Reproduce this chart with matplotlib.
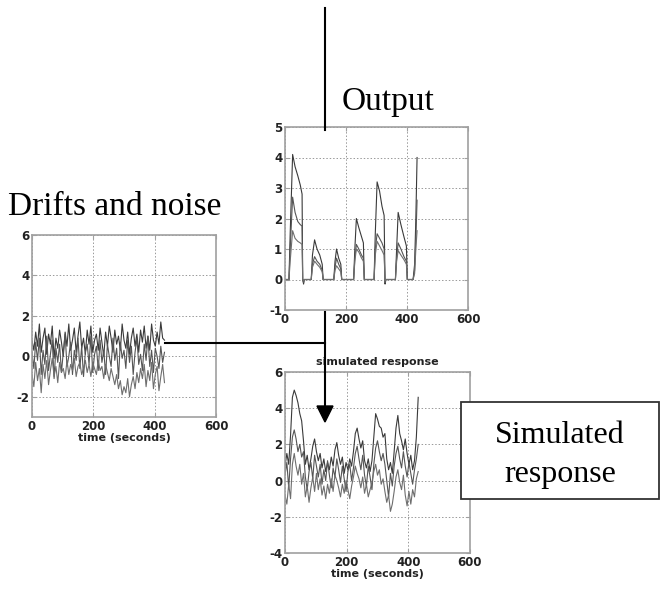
import numpy as np
import matplotlib
matplotlib.use("Agg")
import matplotlib.pyplot as plt
from matplotlib.patches import Polygon, Rectangle

plt.rcParams["axes.unicode_minus"] = False

W, H = 663, 593

# ---- Output panel (three response curves, pulses) ----
t_out = [0, 13,
         17, 25, 33, 42, 50, 56, 58, 61, 63,
         86,
         90, 97, 105, 114, 122, 125, 128,
         160,
         164, 169, 176, 183, 186,
         225,
         229, 234, 242, 251, 257, 260, 263,
         292,
         296, 302, 310, 318, 325, 328, 331,
         362,
         366, 371, 380, 390, 398, 401,
         420,
         425, 429, 433]
out_high = [0, 0,
            1.5, 4.1, 3.7, 3.4, 3.1, 2.8, 0, -0.15, 0,
            0,
            0.8, 1.3, 1.0, 0.8, 0.5, 0, 0,
            0,
            0.6, 1.0, 0.7, 0.5, 0,
            0,
            1.0, 2.0, 1.7, 1.4, 1.2, 0, 0,
            0,
            1.5, 3.2, 2.9, 2.4, 2.1, -0.15, 0,
            0,
            1.0, 2.2, 1.8, 1.4, 1.1, 0,
            0,
            0.5, 2.0, 4.0]
out_mid = [0, 0,
           1.0, 2.7, 2.2, 1.9, 1.8, 1.75, 0, -0.1, 0,
           0,
           0.5, 0.75, 0.6, 0.5, 0.3, 0, 0,
           0,
           0.4, 0.7, 0.5, 0.35, 0,
           0,
           0.7, 1.15, 1.0, 0.8, 0.7, 0, 0,
           0,
           1.0, 1.5, 1.35, 1.2, 1.0, -0.1, 0,
           0,
           0.7, 1.2, 1.0, 0.75, 0.6, 0,
           0,
           0.3, 1.3, 2.6]
out_low = [0, 0,
           0.6, 1.6, 1.35, 1.25, 1.2, 1.15, 0, -0.05, 0,
           0,
           0.4, 0.6, 0.5, 0.4, 0.25, 0, 0,
           0,
           0.3, 0.45, 0.35, 0.25, 0,
           0,
           0.6, 1.0, 0.9, 0.7, 0.6, 0, 0,
           0,
           0.8, 1.25, 1.1, 0.95, 0.8, -0.05, 0,
           0,
           0.6, 0.95, 0.8, 0.65, 0.5, 0,
           0,
           0.2, 1.0, 1.6]

# ---- Drifts and noise (sampled every 6 s, 0..432) ----
t_noise = np.arange(0, 433, 6)
drift_a = [0.8, 0.3, 1.2, 0.5, 1.6, 0.2, 0.9, 1.4, 0.1, 1.1,
           0.6, 1.5, -0.1, 0.9, 0.4, 1.3, 0.7, 0.0, 1.2, 0.5,
           1.6, 0.3, 0.8, 1.4, 0.2, 1.0, 1.7, 0.4, 0.9, 0.1,
           1.3, 0.6, 1.5, 0.2, 0.8, 1.1, 0.3, 1.4, 0.7, 0.0,
           1.2, 0.5, 1.5, 0.9, 0.2, 1.3, 0.6, 1.0, 0.3, 1.6,
           0.8, 0.4, 1.2, 0.1, 0.9, 1.4, 0.5, 1.1, 0.2, 1.3,
           0.7, 1.5, 0.4, 1.0, 0.3, 1.6, 0.8, 0.5, 1.2, 0.6,
           1.7, 0.9, 0.8]
drift_b = [0.2, -0.6, 0.7, -0.2, 0.9, -0.9, 0.3, -0.4, 1.0, -0.7,
           0.1, 0.8, -1.1, 0.4, -0.3, 0.6, -0.8, 0.2, 1.1, -0.5,
           0.0, 0.7, -0.9, 0.3, -0.2, 0.9, -0.6, 0.5, -1.0, 0.2,
           0.6, -0.4, 1.0, -0.8, 0.1, 0.5, -0.7, 0.8, -0.3, 0.3,
           -0.9, 0.6, 0.0, -0.5, 0.9, -0.2, 0.4, -1.1, 0.7, -0.1,
           0.3, -0.6, 0.8, -0.3, 0.5, -0.9, 0.2, 0.9, -0.4, 0.1,
           -0.7, 0.6, -0.2, 1.0, -0.5, 0.3, -0.8, 0.4, 0.0, -0.6,
           0.5, -0.3, 0.2]
drift_c = [-0.9, -1.5, -0.3, -1.2, -0.6, -1.8, -0.4, -1.1, -0.2, -1.4,
           -0.7, -0.1, -1.0, -0.5, -1.3, -0.3, -0.8, -0.6, -1.1, -0.2,
           -0.9, -0.4, -0.7, -0.1, -1.0, -0.5, -0.3, -0.9, -0.6, -0.2,
           -0.8, -0.4, -1.0, -0.3, -0.6, -0.9, -0.2, -0.7, -0.5, -1.1,
           -0.4, -0.8, -1.2, -0.6, -1.0, -1.4, -0.9, -1.6, -1.2, -1.9,
           -1.5, -1.8, -1.1, -2.0, -1.4, -1.0, -1.6, -0.8, -1.3, -0.6,
           -1.1, -0.4, -1.5, -0.7, -1.2, -0.3, -1.6, -0.9, -0.5, -1.7,
           -1.0, -0.4, -1.3]

# ---- Simulated response (same sampling) ----
sim_a = [0.8, 1.5, 0.9, 2.5, 4.6, 5.0, 4.7, 4.3, 3.7, 3.3,
         2.2, 0.9, 1.4, 0.6, 1.2, 1.9, 2.3, 1.6, 1.1, 1.5,
         0.7, 1.2, 0.5, 1.0, 0.6, 1.3, 0.8, 1.7, 2.1, 1.4,
         0.9, 1.3, 0.4, 1.0, 0.6, 1.2, 0.8, 1.6, 2.6, 2.9,
         2.3, 1.8, 2.2, 1.1, 0.7, 1.2, 0.5, 1.1, 2.4, 3.7,
         3.4, 3.0, 2.9, 2.4, 2.6, 1.2, 0.6, 1.0, 0.4, 1.6,
         2.9, 3.6, 2.6, 2.2, 1.7, 2.3, 1.5, 0.9, 1.4, 0.6,
         1.1, 2.4, 4.6]
sim_b = [0.3, 1.0, -0.4, 1.2, 2.4, 2.8, 2.3, 1.6, 2.0, 1.3,
         1.6, 0.2, -0.5, 0.5, 1.0, 0.1, 1.4, 0.8, 0.2, 0.9,
         -0.2, 0.6, 0.0, 1.1, 0.3, -0.4, 0.7, 0.2, 1.2, 0.6,
         -0.1, 0.8, 0.1, -0.6, 0.5, 0.9, 0.0, 0.7, 1.5, 1.9,
         1.2, 0.6, 1.4, 0.3, -0.3, 0.8, 0.2, -0.5, 0.9, 1.8,
         2.2, 1.6, 1.1, 1.5, 0.9, 0.0, -0.9, 0.4, -0.3, 0.8,
         1.5, 1.9, 1.2, 0.7, 1.6, 0.8, 0.2, 1.0, 0.4, -0.2,
         0.6, 1.2, 2.0]
sim_c = [-0.8, -1.3, -0.2, -1.0, 0.9, 1.5, 0.8, 0.3, 0.9, -0.2,
         0.4, -0.9, -0.3, -1.2, -0.4, 0.2, -0.6, 0.4, -0.5, 0.1,
         -0.8, -0.3, -1.0, -0.2, -0.7, 0.1, -0.6, 0.3, 0.0, -0.4,
         -0.9, -0.2, -0.7, 0.0, -0.5, -1.0, -0.3, 0.2, 0.8, 0.4,
         0.1, -0.4, 0.2, -0.7, -0.2, -0.9, -0.5, -0.1, 0.5, 0.9,
         0.3, 0.6, -0.2, 0.1, -0.6, -1.2, -0.8, -1.7, -1.3, -0.6,
         0.2, 0.6, -0.1, -0.5, 0.3, -0.8, -1.4, -0.6, -1.3, -0.5,
         -0.9, 0.1, 0.5]

x_ticks = [0, 200, 400, 600]
line_colors = ["#3a3a3a", "#555555", "#6e6e6e"]


def px_axes(fig, left, top, right, bottom):
    # pixel box (origin top-left) -> figure fraction rect
    return fig.add_axes([left / W, 1 - bottom / H, (right - left) / W, (bottom - top) / H])


def style_panel(ax, ylim, yticks, xlabel=None, title=None):
    ax.set_xlim(0, 600)
    ax.set_ylim(*ylim)
    ax.set_xticks(x_ticks)
    ax.set_yticks(yticks)
    ax.grid(True, color="#999999", linestyle=(0, (1.5, 2)), linewidth=0.7)
    for s in ax.spines.values():
        s.set_color("#a0a0a0")
        s.set_linewidth(1.2)
    ax.tick_params(direction="in", length=3, color="#a0a0a0", labelsize=8.5,
                   labelcolor="#222222", pad=2, top=True, right=True)
    for lab in ax.get_xticklabels() + ax.get_yticklabels():
        lab.set_fontweight("semibold")
    if xlabel:
        ax.set_xlabel(xlabel, fontsize=8, fontweight="semibold", color="#222222", labelpad=0)
    if title:
        ax.set_title(title, fontsize=8, fontweight="semibold", color="#222222", pad=5)


fig = plt.figure(figsize=(W / 100, H / 100), dpi=100)

ax_out = px_axes(fig, 285, 127, 468, 310)
for ys, c in zip([out_high, out_mid, out_low], line_colors):
    ax_out.plot(t_out, ys, color=c, lw=0.8)
style_panel(ax_out, (-1, 5), [-1, 0, 1, 2, 3, 4, 5])

ax_drift = px_axes(fig, 32, 235, 216, 417)
for ys, c in zip([drift_a, drift_b, drift_c], line_colors):
    ax_drift.plot(t_noise, ys, color=c, lw=0.8)
style_panel(ax_drift, (-3, 6), [-2, 0, 2, 4, 6], xlabel="time (seconds)")

ax_sim = px_axes(fig, 285, 372, 470, 553)
for ys, c in zip([sim_a, sim_b, sim_c], line_colors):
    ax_sim.plot(t_noise, ys, color=c, lw=0.8)
style_panel(ax_sim, (-4, 6), [-4, -2, 0, 2, 4, 6], xlabel="time (seconds)",
            title="simulated response")

# overlay in pixel coordinates for the diagram connectors and labels
ov = fig.add_axes([0, 0, 1, 1], zorder=10)
ov.set_xlim(0, W)
ov.set_ylim(H, 0)
ov.axis("off")
ov.patch.set_alpha(0)

ov.plot([325, 325], [8, 130], color="black", lw=1.5)
ov.plot([325, 325], [312, 410], color="black", lw=1.5)
ov.plot([165, 325], [343, 343], color="black", lw=1.5)
ov.add_patch(Polygon([[317, 406], [333, 406], [325, 422]], closed=True,
                     facecolor="black", edgecolor="black"))

serif = "Liberation Serif"
ov.text(388, 110, "Output", fontsize=24, family=serif, ha="center", va="baseline")
ov.text(115, 215, "Drifts and noise", fontsize=24, family=serif, ha="center", va="baseline")

ov.add_patch(Rectangle((461, 402), 198, 97, facecolor="white", edgecolor="#333333", lw=1.3))
ov.text(560, 443, "Simulated", fontsize=23, family=serif, ha="center", va="baseline")
ov.text(560, 482, "response", fontsize=23, family=serif, ha="center", va="baseline")

fig.savefig("out.png", dpi=100)
